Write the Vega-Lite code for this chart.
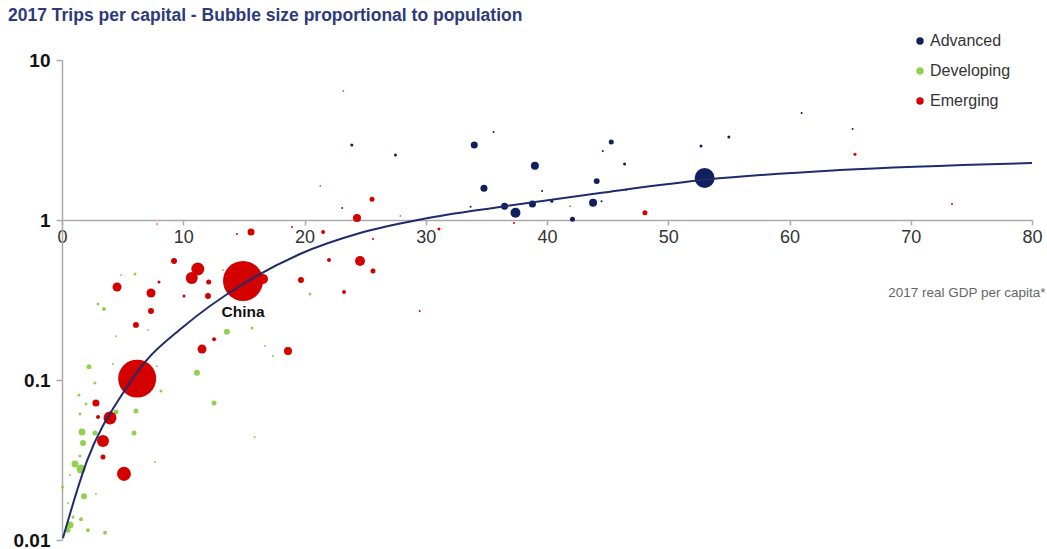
{
  "$schema": "https://vega.github.io/schema/vega-lite/v6.json",
  "autosize": "none",
  "width": 970,
  "height": 480,
  "padding": {"left": 62, "top": 60, "right": 15, "bottom": 9},
  "background": "white",
  "config": {
    "view": {"stroke": null},
    "font": "Liberation Sans"
  },
  "title": {
    "text": "2017 Trips per capital - Bubble size proportional to population",
    "anchor": "start",
    "frame": "group",
    "dx": -54,
    "fontSize": 17.5,
    "fontWeight": "bold",
    "color": "#2e3a7c",
    "font": "Liberation Sans",
    "offset": 9
  },
  "datasets": {
    "countries": [
      {"name": "US", "group": "Advanced", "gdp": 53.0, "trips": 1.83, "pop": 350},
      {"name": "", "group": "Advanced", "gdp": 23.9, "trips": 2.94, "pop": 8},
      {"name": "", "group": "Advanced", "gdp": 27.5, "trips": 2.55, "pop": 8},
      {"name": "", "group": "Advanced", "gdp": 34.0, "trips": 2.94, "pop": 43},
      {"name": "", "group": "Advanced", "gdp": 35.6, "trips": 3.55, "pop": 3.5},
      {"name": "", "group": "Advanced", "gdp": 34.8, "trips": 1.58, "pop": 43},
      {"name": "", "group": "Advanced", "gdp": 33.7, "trips": 1.21, "pop": 3.5},
      {"name": "", "group": "Advanced", "gdp": 36.5, "trips": 1.22, "pop": 43},
      {"name": "", "group": "Advanced", "gdp": 37.4, "trips": 1.11, "pop": 87},
      {"name": "", "group": "Advanced", "gdp": 38.8, "trips": 1.26, "pop": 43},
      {"name": "", "group": "Advanced", "gdp": 39.0, "trips": 2.18, "pop": 56},
      {"name": "", "group": "Advanced", "gdp": 39.6, "trips": 1.52, "pop": 3.5},
      {"name": "", "group": "Advanced", "gdp": 40.4, "trips": 1.31, "pop": 8},
      {"name": "", "group": "Advanced", "gdp": 42.1, "trips": 1.01, "pop": 22},
      {"name": "", "group": "Advanced", "gdp": 43.8, "trips": 1.28, "pop": 56},
      {"name": "", "group": "Advanced", "gdp": 44.1, "trips": 1.75, "pop": 31},
      {"name": "", "group": "Advanced", "gdp": 44.5, "trips": 1.31, "pop": 3.5},
      {"name": "", "group": "Advanced", "gdp": 44.6, "trips": 2.7, "pop": 3.5},
      {"name": "", "group": "Advanced", "gdp": 45.3, "trips": 3.07, "pop": 22},
      {"name": "", "group": "Advanced", "gdp": 46.4, "trips": 2.24, "pop": 8},
      {"name": "", "group": "Advanced", "gdp": 46.5, "trips": 1.54, "pop": 3.5},
      {"name": "", "group": "Advanced", "gdp": 52.7, "trips": 2.9, "pop": 8},
      {"name": "", "group": "Advanced", "gdp": 55.0, "trips": 3.3, "pop": 8},
      {"name": "", "group": "Advanced", "gdp": 61.0, "trips": 4.66, "pop": 3.5},
      {"name": "", "group": "Advanced", "gdp": 65.2, "trips": 3.7, "pop": 3.5},
      {"name": "", "group": "Developing", "gdp": 6.02, "trips": 0.46, "pop": 8},
      {"name": "", "group": "Developing", "gdp": 4.87, "trips": 0.453, "pop": 3.5},
      {"name": "", "group": "Developing", "gdp": 2.97, "trips": 0.299, "pop": 8},
      {"name": "", "group": "Developing", "gdp": 3.46, "trips": 0.278, "pop": 14},
      {"name": "", "group": "Developing", "gdp": 4.45, "trips": 0.188, "pop": 3.5},
      {"name": "", "group": "Developing", "gdp": 7.09, "trips": 0.205, "pop": 3.5},
      {"name": "", "group": "Developing", "gdp": 13.6, "trips": 0.2, "pop": 31},
      {"name": "", "group": "Developing", "gdp": 15.67, "trips": 0.211, "pop": 8},
      {"name": "", "group": "Developing", "gdp": 20.45, "trips": 0.345, "pop": 8},
      {"name": "", "group": "Developing", "gdp": 16.74, "trips": 0.163, "pop": 3.5},
      {"name": "", "group": "Developing", "gdp": 17.4, "trips": 0.141, "pop": 3.5},
      {"name": "", "group": "Developing", "gdp": 2.23, "trips": 0.121, "pop": 22},
      {"name": "", "group": "Developing", "gdp": 4.21, "trips": 0.126, "pop": 3.5},
      {"name": "", "group": "Developing", "gdp": 7.84, "trips": 0.122, "pop": 3.5},
      {"name": "", "group": "Developing", "gdp": 11.13, "trips": 0.111, "pop": 31},
      {"name": "", "group": "Developing", "gdp": 2.72, "trips": 0.0958, "pop": 8},
      {"name": "", "group": "Developing", "gdp": 8.16, "trips": 0.0854, "pop": 8},
      {"name": "", "group": "Developing", "gdp": 1.4, "trips": 0.0806, "pop": 8},
      {"name": "", "group": "Developing", "gdp": 1.98, "trips": 0.0708, "pop": 8},
      {"name": "", "group": "Developing", "gdp": 1.48, "trips": 0.0613, "pop": 8},
      {"name": "", "group": "Developing", "gdp": 4.45, "trips": 0.0631, "pop": 22},
      {"name": "", "group": "Developing", "gdp": 6.1, "trips": 0.064, "pop": 22},
      {"name": "", "group": "Developing", "gdp": 12.54, "trips": 0.0718, "pop": 22},
      {"name": "", "group": "Developing", "gdp": 1.65, "trips": 0.0473, "pop": 43},
      {"name": "", "group": "Developing", "gdp": 2.72, "trips": 0.0467, "pop": 22},
      {"name": "", "group": "Developing", "gdp": 1.73, "trips": 0.0404, "pop": 31},
      {"name": "", "group": "Developing", "gdp": 5.94, "trips": 0.0467, "pop": 22},
      {"name": "", "group": "Developing", "gdp": 1.48, "trips": 0.0335, "pop": 8},
      {"name": "", "group": "Developing", "gdp": 1.07, "trips": 0.0299, "pop": 43},
      {"name": "", "group": "Developing", "gdp": 1.57, "trips": 0.0278, "pop": 71},
      {"name": "", "group": "Developing", "gdp": 0.66, "trips": 0.0255, "pop": 3.5},
      {"name": "", "group": "Developing", "gdp": 0.05, "trips": 0.0214, "pop": 8},
      {"name": "", "group": "Developing", "gdp": 1.81, "trips": 0.0188, "pop": 31},
      {"name": "", "group": "Developing", "gdp": 2.8, "trips": 0.0194, "pop": 3.5},
      {"name": "", "group": "Developing", "gdp": 0.49, "trips": 0.017, "pop": 3.5},
      {"name": "", "group": "Developing", "gdp": 0.91, "trips": 0.0139, "pop": 8},
      {"name": "", "group": "Developing", "gdp": 1.57, "trips": 0.0135, "pop": 14},
      {"name": "", "group": "Developing", "gdp": 0.66, "trips": 0.0124, "pop": 43},
      {"name": "", "group": "Developing", "gdp": 0.49, "trips": 0.0115, "pop": 22},
      {"name": "", "group": "Developing", "gdp": 2.14, "trips": 0.0115, "pop": 14},
      {"name": "", "group": "Developing", "gdp": 3.55, "trips": 0.0111, "pop": 14},
      {"name": "", "group": "Developing", "gdp": 15.9, "trips": 0.044, "pop": 3.5},
      {"name": "", "group": "Developing", "gdp": 7.67, "trips": 0.0307, "pop": 3.5},
      {"name": "", "group": "Developing", "gdp": 13.28, "trips": 0.487, "pop": 3.5},
      {"name": "China", "group": "Emerging", "gdp": 14.93, "trips": 0.416, "pop": 1400},
      {"name": "India", "group": "Emerging", "gdp": 6.2, "trips": 0.102, "pop": 1263},
      {"name": "", "group": "Emerging", "gdp": 16.58, "trips": 0.428, "pop": 87},
      {"name": "", "group": "Emerging", "gdp": 11.2, "trips": 0.494, "pop": 148},
      {"name": "", "group": "Emerging", "gdp": 10.7, "trips": 0.434, "pop": 126},
      {"name": "", "group": "Emerging", "gdp": 12.1, "trips": 0.41, "pop": 22},
      {"name": "", "group": "Emerging", "gdp": 9.24, "trips": 0.554, "pop": 31},
      {"name": "", "group": "Emerging", "gdp": 10.06, "trips": 0.335, "pop": 8},
      {"name": "", "group": "Emerging", "gdp": 12.04, "trips": 0.335, "pop": 31},
      {"name": "", "group": "Emerging", "gdp": 4.54, "trips": 0.381, "pop": 71},
      {"name": "", "group": "Emerging", "gdp": 7.34, "trips": 0.35, "pop": 71},
      {"name": "", "group": "Emerging", "gdp": 7.34, "trips": 0.27, "pop": 31},
      {"name": "", "group": "Emerging", "gdp": 6.1, "trips": 0.221, "pop": 31},
      {"name": "", "group": "Emerging", "gdp": 8.0, "trips": 0.41, "pop": 8},
      {"name": "", "group": "Emerging", "gdp": 12.54, "trips": 0.18, "pop": 14},
      {"name": "", "group": "Emerging", "gdp": 11.55, "trips": 0.156, "pop": 71},
      {"name": "", "group": "Emerging", "gdp": 18.64, "trips": 0.152, "pop": 56},
      {"name": "", "group": "Emerging", "gdp": 15.59, "trips": 0.841, "pop": 43},
      {"name": "", "group": "Emerging", "gdp": 14.43, "trips": 0.818, "pop": 3.5},
      {"name": "", "group": "Emerging", "gdp": 18.97, "trips": 0.904, "pop": 3.5},
      {"name": "", "group": "Emerging", "gdp": 21.53, "trips": 0.841, "pop": 14},
      {"name": "", "group": "Emerging", "gdp": 23.1, "trips": 1.19, "pop": 3.5},
      {"name": "", "group": "Emerging", "gdp": 24.33, "trips": 1.03, "pop": 56},
      {"name": "", "group": "Emerging", "gdp": 25.57, "trips": 1.35, "pop": 22},
      {"name": "", "group": "Emerging", "gdp": 25.65, "trips": 0.761, "pop": 3.5},
      {"name": "", "group": "Emerging", "gdp": 22.02, "trips": 0.562, "pop": 14},
      {"name": "", "group": "Emerging", "gdp": 24.58, "trips": 0.554, "pop": 87},
      {"name": "", "group": "Emerging", "gdp": 25.65, "trips": 0.48, "pop": 22},
      {"name": "", "group": "Emerging", "gdp": 19.71, "trips": 0.422, "pop": 31},
      {"name": "", "group": "Emerging", "gdp": 23.26, "trips": 0.355, "pop": 14},
      {"name": "", "group": "Emerging", "gdp": 31.09, "trips": 0.879, "pop": 8},
      {"name": "", "group": "Emerging", "gdp": 37.28, "trips": 0.958, "pop": 3.5},
      {"name": "", "group": "Emerging", "gdp": 48.08, "trips": 1.11, "pop": 22},
      {"name": "", "group": "Emerging", "gdp": 65.4, "trips": 2.58, "pop": 8},
      {"name": "", "group": "Emerging", "gdp": 73.4, "trips": 1.26, "pop": 3.5},
      {"name": "", "group": "Emerging", "gdp": 29.5, "trips": 0.27, "pop": 3.5},
      {"name": "", "group": "Emerging", "gdp": 2.8, "trips": 0.0718, "pop": 43},
      {"name": "", "group": "Emerging", "gdp": 2.97, "trips": 0.0587, "pop": 14},
      {"name": "", "group": "Emerging", "gdp": 3.96, "trips": 0.0579, "pop": 148},
      {"name": "", "group": "Emerging", "gdp": 3.38, "trips": 0.0416, "pop": 126},
      {"name": "", "group": "Emerging", "gdp": 3.38, "trips": 0.033, "pop": 22},
      {"name": "", "group": "Emerging", "gdp": 5.11, "trips": 0.0259, "pop": 172},
      {"name": "", "group": "Emerging", "gdp": 7.84, "trips": 0.944, "pop": 2},
      {"name": "", "group": "Emerging", "gdp": 27.9, "trips": 1.06, "pop": 2},
      {"name": "", "group": "Emerging", "gdp": 23.2, "trips": 6.41, "pop": 2},
      {"name": "", "group": "Emerging", "gdp": 21.3, "trips": 1.63, "pop": 2},
      {"name": "", "group": "Emerging", "gdp": 41.9, "trips": 1.22, "pop": 2}
    ],
    "curve": [
      {"gdp": 0.08, "trips": 0.0103},
      {"gdp": 2.06, "trips": 0.0312},
      {"gdp": 5.03, "trips": 0.083},
      {"gdp": 6.85, "trips": 0.1296},
      {"gdp": 9.98, "trips": 0.2144},
      {"gdp": 14.93, "trips": 0.398},
      {"gdp": 19.63, "trips": 0.613},
      {"gdp": 24.58, "trips": 0.829},
      {"gdp": 29.77, "trips": 1.0145},
      {"gdp": 36.12, "trips": 1.206},
      {"gdp": 44.37, "trips": 1.475},
      {"gdp": 53.2, "trips": 1.791},
      {"gdp": 64.16, "trips": 2.054},
      {"gdp": 80, "trips": 2.27}
    ]
  },
  "encoding": {
    "x": {
      "field": "gdp",
      "type": "quantitative",
      "scale": {"domain": [0, 80], "nice": false, "zero": false},
      "axis": {
        "orient": "bottom",
        "offset": -320,
        "values": [0, 10, 20, 30, 40, 50, 60, 70, 80],
        "grid": false,
        "domainColor": "#aaaaaa",
        "domainWidth": 1.5,
        "tickColor": "#aaaaaa",
        "tickWidth": 1.5,
        "tickSize": 5,
        "labelFontSize": 18,
        "labelColor": "#333333",
        "labelFont": "Liberation Sans",
        "labelPadding": 3,
        "labelFlush": false,
        "title": "2017 real GDP per capita*",
        "titleFont": "Liberation Sans",
        "titleFontSize": 13.5,
        "titleFontWeight": "normal",
        "titleColor": "#666666",
        "titleAnchor": "end",
        "titleAlign": "right",
        "titleBaseline": "middle",
        "titleX": 983,
        "titleY": 72
      }
    },
    "y": {
      "field": "trips",
      "type": "quantitative",
      "scale": {"type": "log", "domain": [0.01, 10], "nice": false},
      "axis": {
        "values": [0.01, 0.1, 1, 10],
        "format": "~g",
        "grid": false,
        "domainColor": "#aaaaaa",
        "domainWidth": 1.5,
        "tickColor": "#aaaaaa",
        "tickWidth": 1.5,
        "tickSize": 6,
        "labelFontSize": 19,
        "labelFontWeight": "bold",
        "labelColor": "#111111",
        "labelFont": "Liberation Sans",
        "labelPadding": 6,
        "labelFlush": false,
        "title": null
      }
    }
  },
  "layer": [
    {
      "data": {"name": "countries"},
      "mark": {"type": "circle", "opacity": 1},
      "encoding": {
        "size": {
          "field": "pop",
          "type": "quantitative",
          "scale": {"type": "linear", "domain": [0, 1400], "range": [0, 1600], "zero": true},
          "legend": null
        },
        "color": {
          "field": "group",
          "type": "nominal",
          "scale": {"domain": ["Advanced", "Developing", "Emerging"], "range": ["#101f5e", "#92d050", "#d40000"]},
          "legend": {
            "orient": "none",
            "legendX": 850,
            "legendY": -27,
            "title": null,
            "labelFontSize": 16,
            "labelFont": "Liberation Sans",
            "labelColor": "#333333",
            "symbolType": "circle",
            "symbolSize": 55,
            "symbolOpacity": 1,
            "rowPadding": 14,
            "labelOffset": 2
          }
        }
      }
    },
    {
      "data": {"name": "curve"},
      "mark": {"type": "line", "color": "#1f2b6b", "strokeWidth": 2, "interpolate": "monotone"},
      "encoding": {}
    },
    {
      "data": {"name": "countries"},
      "transform": [{"filter": "datum.name === 'China'"}],
      "mark": {"type": "text", "dy": 31, "fontWeight": "bold", "fontSize": 15.5, "font": "Liberation Sans", "color": "#111111"},
      "encoding": {"text": {"field": "name"}}
    }
  ]
}
